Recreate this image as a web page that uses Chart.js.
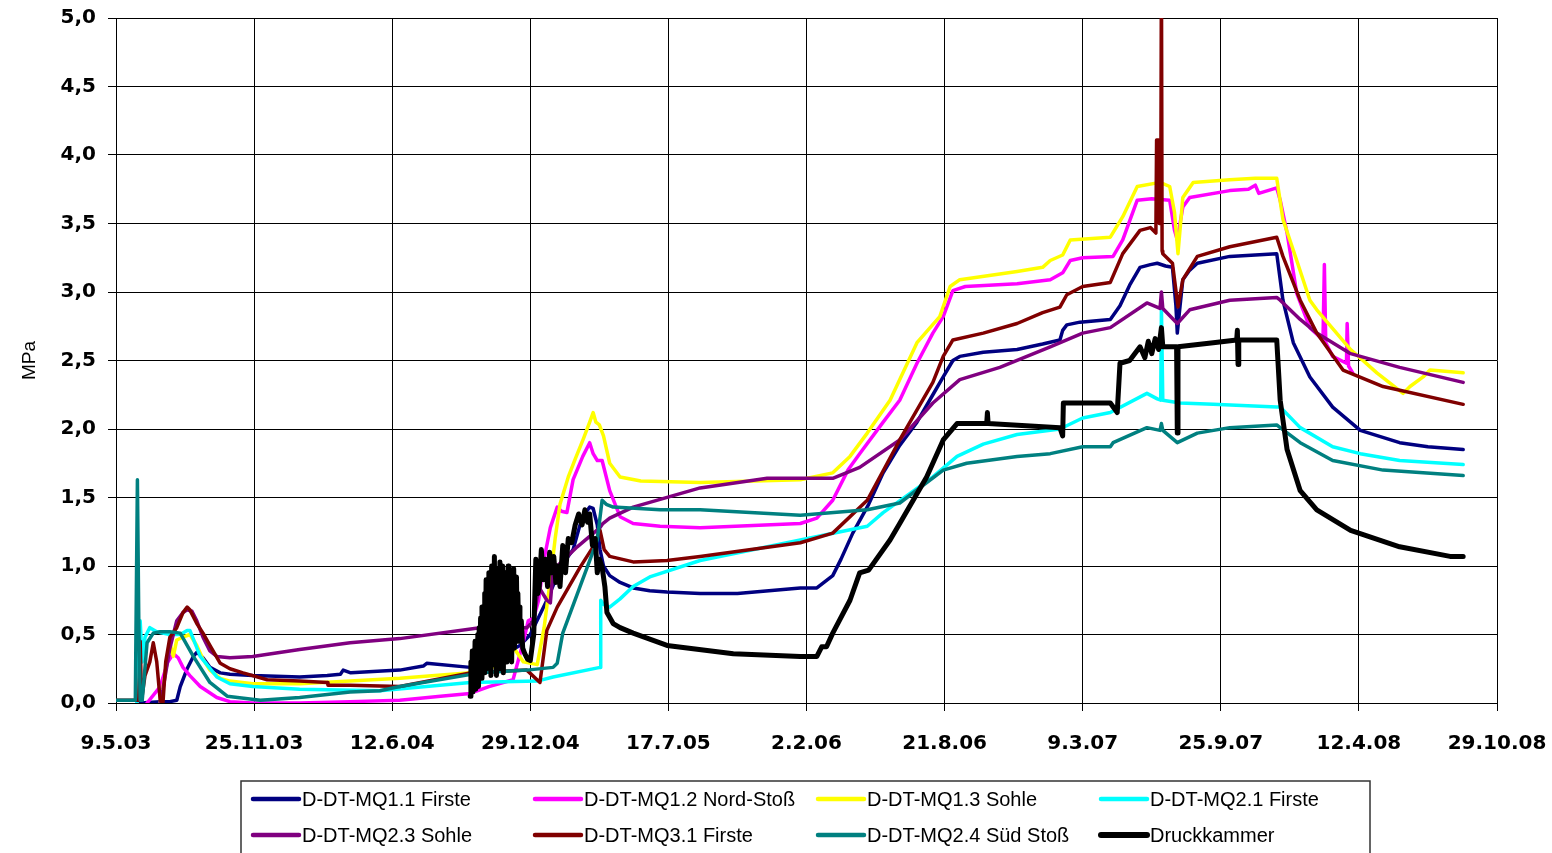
<!DOCTYPE html>
<html>
<head>
<meta charset="utf-8">
<title>Druckmessungen MQ</title>
<script src="https://cdn.jsdelivr.net/npm/chart.js@4.4.1/dist/chart.umd.min.js"></script>
<style>
  html, body { margin: 0; padding: 0; background: #fff; }
  canvas { display: block; }
</style>
</head>
<body>
<canvas id="c" width="1552" height="853"></canvas>
<script>
// x values are days counted from 9.5.03, y values in MPa
const startDate = Date.UTC(2003, 4, 9);
const dayTicks = [0, 200, 400, 600, 800, 1000, 1200, 1400, 1600, 1800, 2000];
const mpaTicks = [0, 0.5, 1, 1.5, 2, 2.5, 3, 3.5, 4, 4.5, 5];

const labels = [
  'D-DT-MQ1.1 Firste', 'D-DT-MQ1.2 Nord-Stoß', 'D-DT-MQ1.3 Sohle', 'D-DT-MQ2.1 Firste',
  'D-DT-MQ2.3 Sohle', 'D-DT-MQ3.1 Firste', 'D-DT-MQ2.4 Süd Stoß', 'Druckkammer'
];
const colors = ['#000080', '#FF00FF', '#FFFF00', '#00FFFF', '#800080', '#800000', '#008080', '#000000'];

const mq11 = [[35,0.0],[64,0.01],[78,0.01],[88,0.02],[93,0.12],[103,0.25],[112,0.34],[117,0.37],[126,0.33],[136,0.26],[151,0.22],[165,0.21],[198,0.20],[266,0.19],[306,0.20],[325,0.21],[329,0.24],[340,0.22],[411,0.24],[445,0.27],[450,0.29],[513,0.26],[560,0.35],[585,0.42],[600,0.50],[624,0.75],[645,1.0],[662,1.12],[672,1.30],[679,1.38],[686,1.43],[691,1.42],[697,1.30],[701,1.12],[706,1.0],[715,0.93],[730,0.88],[749,0.84],[773,0.82],[798,0.81],[846,0.80],[900,0.80],[991,0.84],[1015,0.84],[1038,0.93],[1050,1.05],[1067,1.24],[1090,1.45],[1111,1.68],[1135,1.88],[1160,2.05],[1183,2.25],[1198,2.38],[1212,2.50],[1222,2.53],[1256,2.56],[1305,2.58],[1342,2.62],[1367,2.65],[1371,2.72],[1377,2.76],[1396,2.78],[1440,2.80],[1454,2.90],[1468,3.05],[1483,3.18],[1498,3.20],[1508,3.21],[1520,3.19],[1530,3.18],[1535,2.9],[1537,2.70],[1541,2.9],[1545,3.09],[1555,3.16],[1566,3.21],[1613,3.26],[1650,3.27],[1681,3.28],[1690,2.94],[1705,2.63],[1729,2.38],[1762,2.16],[1802,1.99],[1859,1.90],[1900,1.87],[1951,1.85]];

const mq12 = [[45,0.0],[64,0.12],[75,0.3],[83,0.36],[90,0.33],[97,0.26],[107,0.2],[122,0.12],[146,0.04],[165,0.01],[198,0.0],[266,0.0],[339,0.01],[411,0.02],[470,0.05],[513,0.07],[540,0.12],[575,0.17],[590,0.45],[597,0.60],[605,0.62],[612,0.75],[620,1.05],[629,1.28],[639,1.43],[645,1.40],[653,1.39],[662,1.63],[676,1.80],[686,1.90],[691,1.82],[697,1.77],[704,1.77],[715,1.55],[730,1.36],[749,1.31],[788,1.29],[846,1.28],[991,1.31],[1015,1.35],[1038,1.48],[1060,1.70],[1077,1.82],[1111,2.05],[1135,2.21],[1160,2.48],[1183,2.70],[1198,2.82],[1212,3.01],[1230,3.04],[1305,3.06],[1353,3.09],[1371,3.14],[1382,3.23],[1400,3.25],[1444,3.26],[1458,3.38],[1479,3.67],[1500,3.68],[1526,3.67],[1533,3.45],[1537,3.38],[1545,3.62],[1555,3.69],[1613,3.74],[1640,3.75],[1650,3.78],[1655,3.72],[1681,3.76],[1686,3.67],[1696,3.43],[1710,2.99],[1729,2.74],[1748,2.65],[1750,3.20],[1752,2.63],[1762,2.53],[1782,2.48],[1783,2.77],[1785,2.46],[1791,2.41]];

const mq13 = [[64,0.0],[71,0.2],[78,0.44],[83,0.34],[88,0.46],[97,0.48],[107,0.50],[117,0.42],[126,0.32],[136,0.24],[151,0.18],[165,0.16],[198,0.14],[266,0.14],[339,0.16],[411,0.18],[513,0.22],[560,0.28],[575,0.41],[590,0.30],[610,0.28],[620,0.55],[629,0.9],[636,1.2],[643,1.45],[655,1.65],[665,1.78],[677,1.93],[686,2.05],[691,2.12],[695,2.05],[700,2.03],[706,1.95],[715,1.75],[730,1.65],[760,1.62],[846,1.61],[991,1.63],[1038,1.68],[1063,1.80],[1088,1.97],[1121,2.21],[1160,2.63],[1193,2.82],[1208,3.04],[1222,3.09],[1305,3.15],[1342,3.18],[1353,3.23],[1371,3.27],[1382,3.38],[1440,3.40],[1458,3.55],[1479,3.77],[1512,3.80],[1526,3.77],[1533,3.58],[1538,3.28],[1545,3.69],[1560,3.80],[1613,3.82],[1650,3.83],[1681,3.83],[1690,3.53],[1710,3.23],[1729,2.94],[1739,2.87],[1788,2.58],[1826,2.41],[1864,2.26],[1874,2.31],[1893,2.38],[1903,2.43],[1951,2.41]];

const mq21 = [[30,0.0],[35,0.6],[38,0.3],[42,0.48],[49,0.55],[59,0.52],[78,0.50],[93,0.50],[103,0.53],[107,0.53],[122,0.34],[146,0.19],[165,0.14],[198,0.12],[266,0.10],[382,0.09],[513,0.15],[610,0.16],[633,0.19],[701,0.26],[702,0.75],[706,0.72],[715,0.70],[730,0.76],[749,0.85],[773,0.92],[846,1.04],[991,1.19],[1088,1.29],[1111,1.39],[1150,1.53],[1183,1.65],[1218,1.80],[1256,1.89],[1305,1.96],[1367,2.00],[1400,2.08],[1440,2.12],[1493,2.26],[1508,2.22],[1513,2.21],[1514,2.89],[1516,2.21],[1541,2.19],[1589,2.18],[1681,2.16],[1686,2.16],[1715,2.01],[1762,1.87],[1802,1.82],[1859,1.77],[1951,1.74]];

const mq23 = [[64,0.0],[68,0.1],[78,0.4],[88,0.6],[97,0.66],[103,0.68],[110,0.67],[117,0.6],[126,0.48],[136,0.38],[146,0.34],[165,0.33],[198,0.34],[266,0.39],[339,0.44],[411,0.47],[527,0.55],[595,0.55],[605,0.60],[612,0.85],[624,0.75],[629,0.73],[633,0.97],[668,1.14],[701,1.28],[705,1.31],[715,1.35],[749,1.43],[846,1.57],[943,1.64],[1038,1.64],[1077,1.72],[1135,1.92],[1183,2.19],[1222,2.36],[1280,2.45],[1353,2.60],[1400,2.70],[1440,2.74],[1493,2.92],[1512,2.88],[1514,3.0],[1516,2.88],[1537,2.77],[1555,2.87],[1613,2.94],[1681,2.96],[1686,2.94],[1715,2.80],[1739,2.70],[1788,2.55],[1859,2.45],[1951,2.34]];

const mq31 = [[0,0.02],[25,0.02],[33,0.02],[35,0.45],[37,0.02],[42,0.2],[49,0.3],[54,0.44],[59,0.3],[64,0.02],[68,0.0],[72,0.3],[78,0.48],[88,0.55],[97,0.66],[103,0.70],[107,0.68],[117,0.58],[126,0.51],[136,0.42],[151,0.29],[165,0.25],[184,0.22],[219,0.17],[266,0.16],[306,0.15],[307,0.13],[339,0.13],[411,0.12],[513,0.22],[595,0.24],[614,0.15],[624,0.53],[639,0.70],[672,0.99],[691,1.14],[701,1.26],[707,1.12],[715,1.07],[749,1.03],[798,1.04],[846,1.07],[991,1.17],[1038,1.24],[1088,1.48],[1135,1.92],[1183,2.34],[1198,2.53],[1212,2.65],[1256,2.70],[1305,2.77],[1342,2.85],[1367,2.89],[1377,2.98],[1400,3.04],[1440,3.07],[1458,3.28],[1483,3.45],[1498,3.47],[1506,3.43],[1507,4.11],[1510,4.11],[1511,3.5],[1513,3.5],[1514,5.4],[1515,3.3],[1516,3.28],[1530,3.21],[1538,2.89],[1545,3.09],[1566,3.26],[1613,3.33],[1681,3.40],[1690,3.26],[1715,2.94],[1739,2.70],[1777,2.43],[1835,2.31],[1951,2.18]];

const mq24 = [[0,0.02],[28,0.02],[31,1.63],[33,0.6],[35,0.02],[38,0.02],[45,0.44],[54,0.51],[64,0.52],[78,0.52],[93,0.51],[112,0.34],[136,0.15],[161,0.05],[209,0.02],[266,0.04],[339,0.08],[382,0.09],[411,0.12],[527,0.22],[595,0.24],[633,0.26],[639,0.29],[647,0.51],[672,0.85],[686,1.04],[697,1.19],[704,1.48],[710,1.45],[720,1.43],[788,1.41],[846,1.41],[991,1.37],[1088,1.41],[1135,1.46],[1198,1.70],[1232,1.75],[1305,1.80],[1353,1.82],[1400,1.87],[1440,1.87],[1444,1.90],[1493,2.01],[1512,1.99],[1514,2.04],[1516,1.99],[1537,1.90],[1566,1.97],[1613,2.01],[1681,2.03],[1686,2.01],[1715,1.90],[1762,1.77],[1835,1.70],[1951,1.66]];

const kammer = [[513,0.05],[514,0.3],[515,0.1],[516,0.38],[517,0.08],[518,0.28],[519,0.15],[520,0.45],[521,0.1],[522,0.35],[523,0.2],[524,0.5],[525,0.12],[526,0.55],[527,0.25],[528,0.62],[529,0.18],[530,0.7],[531,0.3],[532,0.58],[533,0.22],[534,0.8],[535,0.35],[536,0.9],[537,0.25],[538,0.75],[539,0.4],[540,0.95],[541,0.3],[542,0.85],[543,0.2],[544,1.0],[545,0.45],[546,0.92],[547,0.28],[548,1.07],[549,0.35],[550,0.9],[551,0.2],[552,0.98],[553,0.4],[554,0.82],[555,0.25],[556,1.03],[557,0.3],[558,0.9],[559,0.45],[560,1.0],[561,0.22],[562,0.85],[563,0.5],[564,0.95],[565,0.3],[566,0.88],[567,0.4],[568,1.0],[569,0.35],[570,0.78],[571,0.5],[572,0.95],[573,0.3],[574,0.85],[575,0.55],[576,0.98],[577,0.4],[578,0.7],[579,0.6],[580,0.92],[581,0.45],[582,0.8],[583,0.55],[584,0.7],[585,0.45],[587,0.6],[589,0.4],[592,0.36],[596,0.32],[600,0.31],[605,0.5],[608,1.05],[611,0.8],[613,0.85],[616,1.12],[619,0.9],[622,1.05],[625,0.85],[628,1.1],[631,0.95],[634,1.07],[637,0.88],[640,1.0],[643,0.85],[647,1.15],[651,0.95],[655,1.2],[660,1.17],[665,1.3],[670,1.38],[675,1.3],[679,1.41],[683,1.32],[686,1.38],[690,1.15],[694,1.2],[697,0.95],[700,1.05],[704,0.99],[708,0.85],[711,0.66],[720,0.58],[730,0.55],[749,0.51],[798,0.42],[894,0.36],[991,0.34],[1015,0.34],[1022,0.41],[1029,0.41],[1038,0.51],[1063,0.75],[1077,0.95],[1090,0.97],[1121,1.19],[1135,1.31],[1174,1.65],[1198,1.92],[1218,2.04],[1255,2.04],[1261,2.04],[1262,2.12],[1263,2.04],[1367,2.01],[1371,1.95],[1372,2.19],[1440,2.19],[1450,2.12],[1454,2.48],[1468,2.50],[1483,2.60],[1490,2.52],[1495,2.64],[1500,2.55],[1505,2.66],[1510,2.58],[1514,2.74],[1516,2.60],[1536,2.60],[1537,1.97],[1538,2.60],[1589,2.63],[1623,2.65],[1624,2.72],[1625,2.47],[1626,2.65],[1681,2.65],[1686,2.21],[1696,1.85],[1715,1.55],[1739,1.41],[1788,1.26],[1859,1.14],[1932,1.07],[1951,1.07]];

const series = [mq11, mq12, mq13, mq21, mq23, mq31, mq24, kammer];

function fmtDate(days) {
  const d = new Date(startDate + Math.round(days) * 86400000);
  return d.getUTCDate() + '.' + (d.getUTCMonth() + 1) + '.' + String(d.getUTCFullYear()).slice(2);
}

const datasets = series.map((pts, i) => ({
  label: labels[i],
  data: pts.map(p => ({ x: p[0], y: p[1] })),
  borderColor: colors[i],
  backgroundColor: colors[i],
  borderWidth: i === 7 ? 5 : 3.5,
  pointRadius: 0,
  fill: false,
  tension: 0,
  borderJoinStyle: 'round',
  borderCapStyle: 'round',
  order: series.length - i
}));

// legend in a framed box, four entries per row
const boxLegend = {
  id: 'boxLegend',
  afterDraw(chart) {
    const ctx = chart.ctx;
    ctx.save();
    ctx.strokeStyle = '#333';
    ctx.lineWidth = 1.5;
    ctx.strokeRect(241, 781, 1129, 80);
    const colX = [251, 533, 816, 1099];
    const rowY = [799, 835];
    chart.data.datasets.forEach((ds, i) => {
      const x = colX[i % 4], y = rowY[Math.floor(i / 4)];
      ctx.beginPath();
      ctx.lineCap = 'round';
      ctx.strokeStyle = ds.borderColor;
      ctx.lineWidth = i === 7 ? 6 : 4.5;
      ctx.moveTo(x + 2, y);
      ctx.lineTo(x + 48, y);
      ctx.stroke();
      ctx.fillStyle = '#000';
      ctx.font = '20px "Liberation Sans", Arial, sans-serif';
      ctx.textBaseline = 'middle';
      ctx.textAlign = 'left';
      ctx.fillText(ds.label, x + 51, y + 1);
    });
    ctx.restore();
  }
};

const tickFont = { family: '"DejaVu Sans", sans-serif', size: 20, weight: 'bold' };

new Chart(document.getElementById('c'), {
  type: 'line',
  data: { datasets },
  plugins: [boxLegend],
  options: {
    responsive: false,
    animation: false,
    events: [],
    devicePixelRatio: 1,
    layout: { padding: { left: 0, top: 18, right: 55, bottom: 0 } },
    plugins: { legend: { display: false }, tooltip: { enabled: false } },
    scales: {
      x: {
        type: 'linear',
        min: dayTicks[0],
        max: dayTicks[dayTicks.length - 1],
        afterFit(s) { s.height = 150; s.paddingLeft = 0; s.paddingRight = 0; },
        afterBuildTicks(s) { s.ticks = dayTicks.map(v => ({ value: v })); },
        ticks: { autoSkip: false, maxRotation: 0, padding: 21, color: '#000', font: tickFont, callback: v => fmtDate(v) },
        grid: { color: '#000', lineWidth: 1, tickLength: 8, drawTicks: true },
        border: { color: '#000', width: 1 }
      },
      y: {
        min: mpaTicks[0],
        max: mpaTicks[mpaTicks.length - 1],
        afterFit(s) { s.width = 116; s.paddingTop = 0; s.paddingBottom = 0; },
        afterBuildTicks(s) { s.ticks = mpaTicks.map(v => ({ value: v })); },
        ticks: { padding: 12, color: '#000', font: tickFont, callback: v => v.toFixed(1).replace('.', ',') },
        grid: { color: '#000', lineWidth: 1, tickLength: 8, drawTicks: true },
        border: { color: '#000', width: 1 },
        title: { display: true, text: 'MPa', color: '#000', padding: { top: 18, bottom: 0 }, font: { family: '"Liberation Sans", Arial, sans-serif', size: 19 } }
      }
    }
  }
});
</script>
</body>
</html>
